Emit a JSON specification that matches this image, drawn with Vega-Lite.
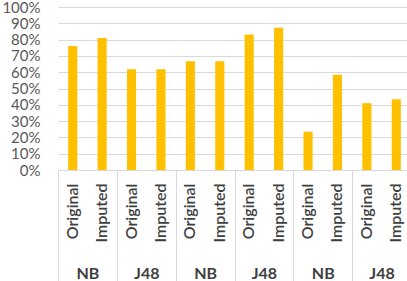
{
  "$schema": "https://vega.github.io/schema/vega-lite/v6.json",
  "width": 349,
  "height": 163,
  "autosize": {"type": "none"},
  "padding": {"left": 58, "top": 7, "right": 0, "bottom": 111},
  "background": "white",
  "config": {
    "view": {"stroke": null},
    "font": "Lato",
    "axis": {"labelFont": "Lato", "labelColor": "#595959"}
  },
  "data": {
    "values": [
      {"key": "01|Original", "grp": "1|NB", "value": 0.76},
      {"key": "02|Imputed", "grp": "1|NB", "value": 0.81},
      {"key": "03|Original", "grp": "2|J48", "value": 0.618},
      {"key": "04|Imputed", "grp": "2|J48", "value": 0.618},
      {"key": "05|Original", "grp": "3|NB", "value": 0.667},
      {"key": "06|Imputed", "grp": "3|NB", "value": 0.667},
      {"key": "07|Original", "grp": "4|J48", "value": 0.832},
      {"key": "08|Imputed", "grp": "4|J48", "value": 0.873},
      {"key": "09|Original", "grp": "5|NB", "value": 0.235},
      {"key": "10|Imputed", "grp": "5|NB", "value": 0.585},
      {"key": "11|Original", "grp": "6|J48", "value": 0.41},
      {"key": "12|Imputed", "grp": "6|J48", "value": 0.434}
    ]
  },
  "layer": [
    {
      "mark": {"type": "bar", "color": "#FFC000", "width": {"band": 0.31}},
      "encoding": {
        "x": {
          "field": "key", "type": "ordinal", "sort": null,
          "scale": {"range": [0, 353], "paddingInner": 0, "paddingOuter": 0},
          "axis": {
            "title": null, "labelAngle": -90, "labelAlign": "right", "labelBaseline": "middle",
            "labelExpr": "split(datum.label, '|')[1]",
            "labelFontSize": 16, "labelFontWeight": 600, "labelPadding": 13,
            "ticks": false, "domainColor": "#d9d9d9", "domainWidth": 1, "labelColor": "#404040"
          }
        },
        "y": {
          "field": "value", "type": "quantitative",
          "scale": {"domain": [0, 1]},
          "axis": {
            "title": null, "format": ".0%", "values": [0, 0.1, 0.2, 0.3, 0.4, 0.5, 0.6, 0.7, 0.8, 0.9, 1],
            "domain": false, "ticks": false, "labelPadding": 18, "labelFontSize": 15,
            "gridColor": "#d9d9d9", "gridWidth": 1
          }
        }
      }
    },
    {
      "mark": {"type": "point", "opacity": 0},
      "encoding": {
        "x": {
          "field": "grp", "type": "ordinal", "sort": null,
          "scale": {"range": [0, 353], "paddingInner": 0, "paddingOuter": 0},
          "axis": {
            "title": null, "orient": "bottom", "labelAngle": 0,
            "labelExpr": "split(datum.label, '|')[1]",
            "tickBand": "extent", "tickSize": 115, "tickColor": "#d9d9d9", "tickWidth": 1,
            "domain": false, "labelPadding": -20, "labelFontSize": 16, "labelFontWeight": "bold",
            "labelColor": "#404040", "labelBaseline": "top", "labelAlign": "center",
            "labelBound": false, "labelOverlap": false
          }
        }
      }
    }
  ],
  "resolve": {"scale": {"x": "independent"}, "axis": {"x": "independent"}}
}
